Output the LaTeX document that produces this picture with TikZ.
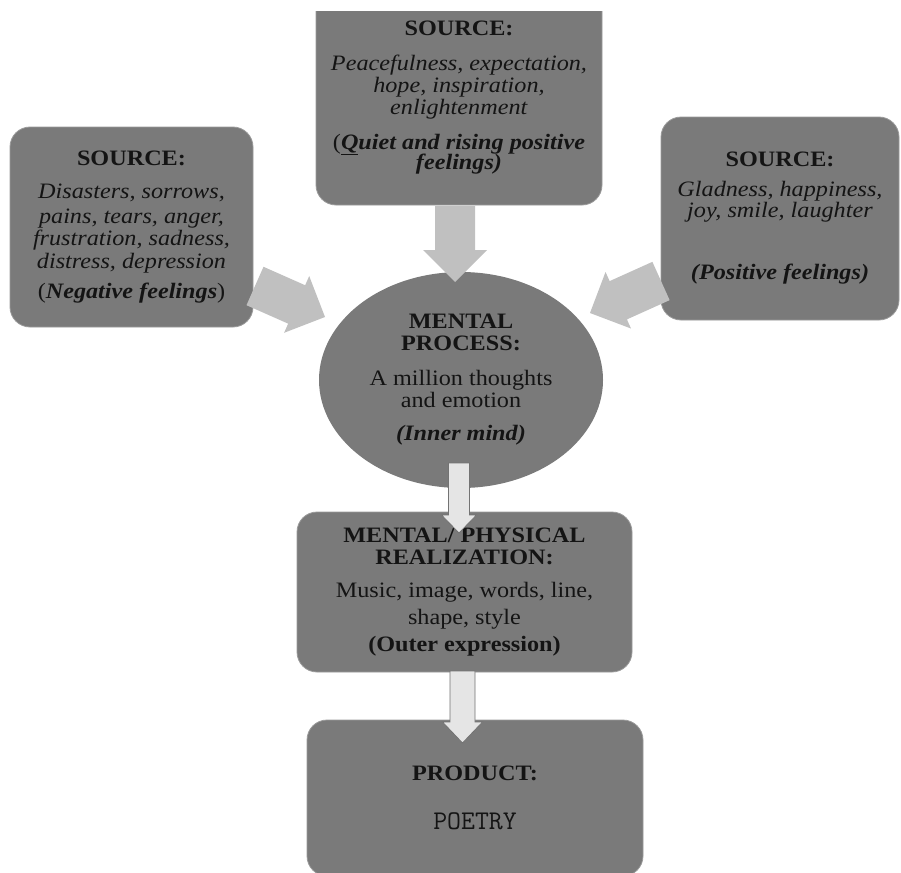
\documentclass[tikz,border=0pt]{standalone}
\usepackage{fontspec}
\setmainfont{Liberation Serif}[FakeStretch=1.1]
\usetikzlibrary{calc,shapes.geometric}

\definecolor{boxgray}{RGB}{122,122,122}
\definecolor{boxedge}{RGB}{155,155,155}
\definecolor{arrgray}{RGB}{192,192,192}
\definecolor{arrlight}{RGB}{229,229,229}
\definecolor{arredge}{RGB}{115,115,115}
\definecolor{txt}{RGB}{20,20,20}

% #1 start, #2 tip, #3 half shaft width, #4 half head width, #5 head length, #6 style
\newcommand{\blockarr}[6]{%
  \coordinate (ba-h) at ($(#2)!#5!(#1)$);
  \path[#6] ($(#1)!#3!90:(#2)$) -- ($(ba-h)!#3!-90:(#1)$) -- ($(ba-h)!#4!-90:(#1)$)
    -- (#2) -- ($(ba-h)!#4!90:(#1)$) -- ($(ba-h)!#3!90:(#1)$) -- ($(#1)!#3!-90:(#2)$) -- cycle;}

\begin{document}
\begin{tikzpicture}[x=1pt,y=-1pt,
  box/.style={draw=boxedge, line width=0.8pt, fill=boxgray, rounded corners=20pt,
    align=center, text=txt, inner sep=0pt, font=\fontsize{22}{22}\selectfont},
  oval/.style={ellipse, fill=boxgray, align=center, text=txt, inner sep=0pt,
    font=\fontsize{22}{22}\selectfont},
  srcarrow/.style={fill=arrgray},
  downarrow/.style={fill=arrlight, draw=arredge, line width=0.8pt, line join=miter}]
\useasboundingbox (0,0) rectangle (901,872);
\fill[white] (0,0) rectangle (901,872);
\begin{scope}
\clip (0,12) rectangle (901,872);

\node[box, minimum width=243pt, minimum height=200pt] (left) at (131.5,227) {%
  \textbf{SOURCE:}\\[11pt]
  \textit{Disasters, sorrows,}\\[3pt]
  \textit{pains, tears, anger,}\\
  \textit{frustration, sadness,}\\[1pt]
  \textit{distress, depression}\\[8pt]
  (\textbf{\textit{Negative feelings}})};

\node[box, minimum width=286pt, minimum height=215pt] (top) at (459,97.5) {%
  \textbf{SOURCE:}\\[13pt]
  \textit{Peacefulness, expectation,}\\
  \textit{hope, inspiration,}\\
  \textit{enlightenment}\\[13pt]
  (\textbf{\textit{\underline{Q}uiet and rising positive}}\\[-2pt]
  \textbf{\textit{feelings)}}};

\node[box, minimum width=238pt, minimum height=203pt] (right) at (780,218.5) {%
  \textbf{SOURCE:}\\[8pt]
  \textit{Gladness, happiness,}\\[-1pt]
  \textit{joy, smile, laughter}\\[40pt]
  \textbf{\textit{(Positive feelings)}}};

\node[oval, minimum width=284pt, minimum height=216pt] (proc) at (461,380) {%
  \textbf{MENTAL}\\
  \textbf{PROCESS:}\\[13pt]
  A million thoughts\\
  and emotion\\[11pt]
  \textbf{\textit{(Inner mind)}}};

\node[box, minimum width=335pt, minimum height=160pt] (real) at (464.5,592) {%
  \textbf{MENTAL/ PHYSICAL}\\
  \textbf{REALIZATION:}\\[11pt]
  Music, image, words, line,\\[5pt]
  shape, style\\[5pt]
  \textbf{(Outer expression)}};

\node[box, minimum width=336pt, minimum height=156pt] (prod) at (475,798) {%
  \textbf{PRODUCT:}\\[27pt]
  {\ttfamily\fontsize{27}{27}\selectfont POETRY}};

\coordinate (a1s) at (255,286);   \coordinate (a1t) at (325,317);
\coordinate (a2s) at (455,206);   \coordinate (a2t) at (455,282);
\coordinate (a3s) at (661,281);   \coordinate (a3t) at (590,313);
\coordinate (a4s) at (459,463);   \coordinate (a4t) at (459,533);
\coordinate (a5s) at (462.5,671); \coordinate (a5t) at (462.5,743);

\blockarr{a1s}{a1t}{21pt}{31pt}{31pt}{srcarrow}
\blockarr{a2s}{a2t}{20pt}{32pt}{32pt}{srcarrow}
\blockarr{a3s}{a3t}{21pt}{31pt}{31pt}{srcarrow}
\blockarr{a4s}{a4t}{10.5pt}{17.5pt}{18pt}{downarrow}
\blockarr{a5s}{a5t}{12.5pt}{20pt}{21pt}{downarrow}
\end{scope}
\end{tikzpicture}
\end{document}
